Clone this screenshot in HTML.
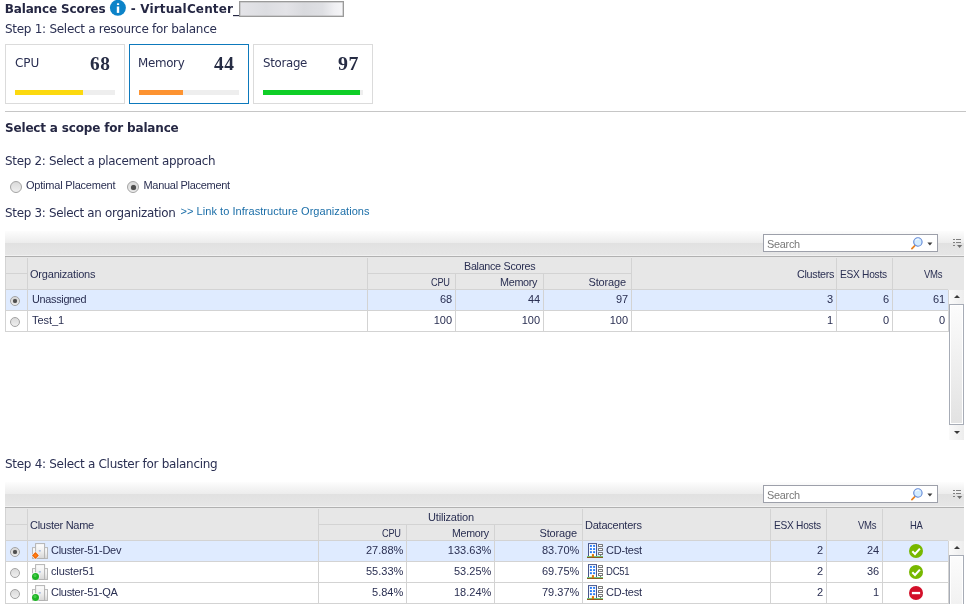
<!DOCTYPE html>
<html lang="en">
<head>
<meta charset="utf-8">
<title>Balance Scores</title>
<style>
*{box-sizing:border-box;margin:0;padding:0}
html,body{width:966px;height:604px;overflow:hidden;background:#fff}
body{position:relative;color:#2a2f52;font:11px "Liberation Sans","DejaVu Sans",sans-serif}
.a{position:absolute}
.x{position:absolute;white-space:nowrap;line-height:14px;transform-origin:0 0}
.v{font:12px 'DejaVu Sans','Liberation Sans',sans-serif;line-height:14px}
.vb{font:bold 12px 'DejaVu Sans','Liberation Sans',sans-serif;line-height:14px;color:#252743}
.t{font:11px 'Liberation Sans','DejaVu Sans',sans-serif;line-height:14px}
.n{font:bold 18px 'Liberation Serif','DejaVu Serif',serif;line-height:22px;color:#262c44}
.card{position:absolute;top:44px;width:120px;height:60px;border:1px solid #dbdbdb;background:#fff}
.card.sel{border-color:#0d79bc}
.bar{position:absolute;top:90px;width:100px;height:5px;background:#eee}
.bar i{display:block;height:5px}
.radio{position:absolute;width:12px;height:12px;border-radius:50%;border:1px solid #a3a3a3;background:linear-gradient(#dadada,#efefef)}
.radio.on:after{content:"";position:absolute;left:2.5px;top:2.5px;width:5px;height:5px;border-radius:50%;background:#4e4e4e;box-shadow:0 0 1px #666}
.radio.s{width:10px;height:10px}
.radio.s.on:after{left:2px;top:2px;width:4px;height:4px}
.tb{position:absolute;left:5px;width:959px;height:26px;background:linear-gradient(#fdfdfd 0,#ececec 12px,#e1e1e1 12px,#e6e6e6 24px,#f1f1f1 24px,#f1f1f1 25px,#b1b1b1 25px)}
.search{position:absolute;left:763px;width:175px;height:18px;border:1px solid #9da0aa;background:#fff}
.hd{position:absolute;left:5px;width:959px;height:33px;background:#e7e7e7;border-left:1px solid #d3d3d3}
.l{position:absolute;background:#d3d3d3}
.row{position:absolute;left:5px;width:944px;height:21px;border-left:1px solid #d3d3d3;border-bottom:1px solid #d3d3d3;background:#fff}
.row.sel{background:#dfebff}
.sb{position:absolute;left:949px;width:15px;background:#f4f4f4}
.sbb{position:absolute;left:949px;width:15px;height:14px;background:linear-gradient(90deg,#fafafa,#ededed)}
.thumb{position:absolute;left:949px;width:15px;border:1px solid #a7acb6;background:linear-gradient(#fcfcfc,#e2e2e2);box-shadow:inset 0 0 0 1px #fff}
</style>
</head>
<body>
<svg class="a" style="left:0;top:0" width="0" height="0" aria-hidden="true"><defs><linearGradient id="cg" x1="0" x2="0" y1="0" y2="1"><stop offset="0" stop-color="#fdfdfd"/><stop offset=".5" stop-color="#f0f0f0"/><stop offset="1" stop-color="#d6d6d6"/></linearGradient></defs></svg>
<svg class="a" style="left:110px;top:0;overflow:visible" width="16" height="16" viewBox="0 0 16 16"><circle cx="7.9" cy="7.8" r="8" fill="#0c83c8"/><rect x="6.8" y="6.5" width="2.4" height="6.4" fill="#fff"/><rect x="6.9" y="3.3" width="2.3" height="1.7" rx=".4" fill="#fff"/></svg>
<div class="a" style="left:239px;top:1px;width:105px;height:16px;border:1px solid #9a9a9a;box-shadow:inset 0 0 0 .5px #b4b4b4;background:linear-gradient(90deg,#e4e4e8,#dcdde1 25%,#e3e3e7 45%,#d9dade 62%,#dedfe3 80%,#f0f0f3 92%,#f6f6f8)"></div>
<div class="card" style="left:5px"></div>
<div class="bar" style="left:15px"><i style="width:68px;background:#fcd90f"></i></div>
<div class="card sel" style="left:129px"></div>
<div class="bar" style="left:139px"><i style="width:44px;background:#fd9331"></i></div>
<div class="card" style="left:253px"></div>
<div class="bar" style="left:263px"><i style="width:97px;background:#0fce27"></i></div>
<div class="a" style="left:5px;top:111px;width:961px;height:1px;background:#c6c6c6"></div>
<div class="radio" style="left:10px;top:181px"></div>
<div class="radio on" style="left:127px;top:181px"></div>
<div class="tb" style="top:231px"></div>
<div class="search" style="top:234px"></div>
<svg class="a" style="left:909.5px;top:235.5px" width="30" height="16" viewBox="0 0 30 16">
<line x1="1.9" y1="12.6" x2="4.6" y2="9.9" stroke="#e8821e" stroke-width="1.7" stroke-linecap="round"/>
<circle cx="7.9" cy="6" r="4.2" fill="#d3ecff" stroke="#6288d6" stroke-width="1.1"/>
<path d="M5.6 4.6a3 3 0 0 1 3.6-1.4" fill="none" stroke="#fff" stroke-width="1"/>
<path d="M17.4 6.6h5l-2.5 3z" fill="#3c3c3c"/>
</svg>
<svg class="a" style="left:952px;top:239px" width="11" height="11" viewBox="0 0 11 11">
<g fill="#808080"><rect x="1" y="0" width="2" height="1"/><rect x="4" y="0" width="5" height="1"/>
<rect x="1" y="3" width="2" height="1"/><rect x="4" y="3" width="5" height="1"/>
<rect x="1" y="6" width="2" height="1"/></g><path d="M5 6h5.2l-2.6 3.1z" fill="#6e6e6e"/>
</svg>
<div class="hd" style="top:257px"></div>
<div class="l" style="left:6px;top:273px;width:21px;height:1px"></div>
<div class="l" style="left:6px;top:289px;width:942px;height:1px"></div>
<div class="l" style="left:27px;top:258px;width:1px;height:32px"></div>
<div class="l" style="left:367px;top:258px;width:1px;height:32px"></div>
<div class="l" style="left:455px;top:274px;width:1px;height:16px"></div>
<div class="l" style="left:543px;top:274px;width:1px;height:16px"></div>
<div class="l" style="left:631px;top:258px;width:1px;height:32px"></div>
<div class="l" style="left:836px;top:258px;width:1px;height:32px"></div>
<div class="l" style="left:892px;top:258px;width:1px;height:32px"></div>
<div class="l" style="left:367px;top:273px;width:264px;height:1px"></div>
<div class="row sel" style="top:290px"></div>
<div class="l" style="left:27px;top:290px;width:1px;height:21px"></div>
<div class="l" style="left:367px;top:290px;width:1px;height:21px"></div>
<div class="l" style="left:455px;top:290px;width:1px;height:21px"></div>
<div class="l" style="left:543px;top:290px;width:1px;height:21px"></div>
<div class="l" style="left:631px;top:290px;width:1px;height:21px"></div>
<div class="l" style="left:836px;top:290px;width:1px;height:21px"></div>
<div class="l" style="left:892px;top:290px;width:1px;height:21px"></div>
<div class="l" style="left:948px;top:290px;width:1px;height:21px"></div>
<div class="radio s on" style="left:10px;top:296px"></div>
<div class="row" style="top:311px"></div>
<div class="l" style="left:27px;top:311px;width:1px;height:21px"></div>
<div class="l" style="left:367px;top:311px;width:1px;height:21px"></div>
<div class="l" style="left:455px;top:311px;width:1px;height:21px"></div>
<div class="l" style="left:543px;top:311px;width:1px;height:21px"></div>
<div class="l" style="left:631px;top:311px;width:1px;height:21px"></div>
<div class="l" style="left:836px;top:311px;width:1px;height:21px"></div>
<div class="l" style="left:892px;top:311px;width:1px;height:21px"></div>
<div class="l" style="left:948px;top:311px;width:1px;height:21px"></div>
<div class="radio s" style="left:10px;top:317px"></div>
<div class="sb" style="top:290px;height:150px"></div>
<div class="sbb" style="top:290px"></div>
<svg class="a" style="left:953.5px;top:295px" width="6" height="3" viewBox="0 0 6 3"><path d="M0 3L3 0 6 3z" fill="#3a3a3a"/></svg>
<div class="thumb" style="top:304px;height:121px"></div>
<div class="sbb" style="top:425px;height:15px"></div>
<svg class="a" style="left:953.5px;top:431px" width="6" height="3" viewBox="0 0 6 3"><path d="M0 0L3 3 6 0z" fill="#3a3a3a"/></svg>
<div class="tb" style="top:482px"></div>
<div class="search" style="top:485px"></div>
<svg class="a" style="left:909.5px;top:486.5px" width="30" height="16" viewBox="0 0 30 16">
<line x1="1.9" y1="12.6" x2="4.6" y2="9.9" stroke="#e8821e" stroke-width="1.7" stroke-linecap="round"/>
<circle cx="7.9" cy="6" r="4.2" fill="#d3ecff" stroke="#6288d6" stroke-width="1.1"/>
<path d="M5.6 4.6a3 3 0 0 1 3.6-1.4" fill="none" stroke="#fff" stroke-width="1"/>
<path d="M17.4 6.6h5l-2.5 3z" fill="#3c3c3c"/>
</svg>
<svg class="a" style="left:952px;top:490px" width="11" height="11" viewBox="0 0 11 11">
<g fill="#808080"><rect x="1" y="0" width="2" height="1"/><rect x="4" y="0" width="5" height="1"/>
<rect x="1" y="3" width="2" height="1"/><rect x="4" y="3" width="5" height="1"/>
<rect x="1" y="6" width="2" height="1"/></g><path d="M5 6h5.2l-2.6 3.1z" fill="#6e6e6e"/>
</svg>
<div class="hd" style="top:508px"></div>
<div class="l" style="left:6px;top:524px;width:21px;height:1px"></div>
<div class="l" style="left:6px;top:540px;width:942px;height:1px"></div>
<div class="l" style="left:27px;top:509px;width:1px;height:32px"></div>
<div class="l" style="left:318px;top:509px;width:1px;height:32px"></div>
<div class="l" style="left:406px;top:525px;width:1px;height:16px"></div>
<div class="l" style="left:494px;top:525px;width:1px;height:16px"></div>
<div class="l" style="left:582px;top:509px;width:1px;height:32px"></div>
<div class="l" style="left:770px;top:509px;width:1px;height:32px"></div>
<div class="l" style="left:826px;top:509px;width:1px;height:32px"></div>
<div class="l" style="left:882px;top:509px;width:1px;height:32px"></div>
<div class="l" style="left:318px;top:524px;width:264px;height:1px"></div>
<div class="row sel" style="top:541px"></div>
<div class="l" style="left:27px;top:541px;width:1px;height:21px"></div>
<div class="l" style="left:318px;top:541px;width:1px;height:21px"></div>
<div class="l" style="left:406px;top:541px;width:1px;height:21px"></div>
<div class="l" style="left:494px;top:541px;width:1px;height:21px"></div>
<div class="l" style="left:582px;top:541px;width:1px;height:21px"></div>
<div class="l" style="left:770px;top:541px;width:1px;height:21px"></div>
<div class="l" style="left:826px;top:541px;width:1px;height:21px"></div>
<div class="l" style="left:882px;top:541px;width:1px;height:21px"></div>
<div class="l" style="left:948px;top:541px;width:1px;height:21px"></div>
<div class="radio s on" style="left:10px;top:547px"></div>
<div class="row" style="top:562px"></div>
<div class="l" style="left:27px;top:562px;width:1px;height:21px"></div>
<div class="l" style="left:318px;top:562px;width:1px;height:21px"></div>
<div class="l" style="left:406px;top:562px;width:1px;height:21px"></div>
<div class="l" style="left:494px;top:562px;width:1px;height:21px"></div>
<div class="l" style="left:582px;top:562px;width:1px;height:21px"></div>
<div class="l" style="left:770px;top:562px;width:1px;height:21px"></div>
<div class="l" style="left:826px;top:562px;width:1px;height:21px"></div>
<div class="l" style="left:882px;top:562px;width:1px;height:21px"></div>
<div class="l" style="left:948px;top:562px;width:1px;height:21px"></div>
<div class="radio s" style="left:10px;top:568px"></div>
<div class="row" style="top:583px"></div>
<div class="l" style="left:27px;top:583px;width:1px;height:21px"></div>
<div class="l" style="left:318px;top:583px;width:1px;height:21px"></div>
<div class="l" style="left:406px;top:583px;width:1px;height:21px"></div>
<div class="l" style="left:494px;top:583px;width:1px;height:21px"></div>
<div class="l" style="left:582px;top:583px;width:1px;height:21px"></div>
<div class="l" style="left:770px;top:583px;width:1px;height:21px"></div>
<div class="l" style="left:826px;top:583px;width:1px;height:21px"></div>
<div class="l" style="left:882px;top:583px;width:1px;height:21px"></div>
<div class="l" style="left:948px;top:583px;width:1px;height:21px"></div>
<div class="radio s" style="left:10px;top:589px"></div>
<div class="sb" style="top:541px;height:63px"></div>
<div class="sbb" style="top:541px"></div>
<svg class="a" style="left:953.5px;top:546px" width="6" height="3" viewBox="0 0 6 3"><path d="M0 3L3 0 6 3z" fill="#3a3a3a"/></svg>
<div class="thumb" style="top:555px;height:121px"></div>
<svg class="a" style="left:32px;top:543px;overflow:visible" width="16" height="16" viewBox="0 0 16 16">
<rect x="0.5" y="4.6" width="4" height="10.9" fill="url(#cg)" stroke="#b9b9b9"/>
<rect x="12.3" y="4.6" width="3.2" height="10.9" fill="url(#cg)" stroke="#b9b9b9"/>
<rect x="3.6" y="0.6" width="9" height="14.9" fill="url(#cg)" stroke="#b3b3b3"/>
<rect x="6.8" y="7.2" width="2" height="1.3" fill="#9ab2dc"/>
<path d="M3.45 8.4L7.5 12.45 3.45 16.5 -0.6 12.45z" fill="#fff"/><path d="M3.45 9.1L6.9 12.5 3.45 15.9 0 12.5z" fill="#ee6200"/><path d="M3.45 10.4L5.5 12.5 3.45 14.6 1.4 12.5z" fill="#fd7d12"/></svg>
<svg class="a" style="left:587px;top:543px" width="16" height="16" viewBox="0 0 16 16">
<rect x="1.5" y="0.6" width="8" height="13" fill="#fdfdfd" stroke="#47568c"/>
<g fill="#2a7cf7"><rect x="2.9" y="2" width="2" height="1.9"/><rect x="6.1" y="2" width="2" height="1.9"/><rect x="2.9" y="5.1" width="2" height="1.9"/><rect x="6.1" y="5.1" width="2" height="1.9"/><rect x="2.9" y="8.2" width="2" height="1.9"/><rect x="6.1" y="8.2" width="2" height="1.9"/></g>
<g fill="#787878"><rect x="11" y="1" width="5" height="3" rx=".5"/><rect x="11" y="5" width="5" height="3" rx=".5"/><rect x="11" y="9" width="5" height="3" rx=".5"/></g>
<g fill="#fff"><rect x="12" y="2" width="3" height="1"/><rect x="12" y="6" width="3" height="1"/><rect x="12" y="10" width="3" height="1"/></g>
<rect x="13" y="12" width="1" height="1.2" fill="#787878"/>
<rect x="0" y="13" width="16" height="1" fill="#74c779"/><rect x="0" y="14" width="16" height="1" fill="#8c5a1f"/>
<rect x="4.9" y="11.1" width="2.1" height="2.9" fill="#dc7a0e"/>
</svg>
<svg class="a" style="left:909px;top:544px" width="14" height="14" viewBox="0 0 14 14"><circle cx="7" cy="7" r="7" fill="#77b800"/><path d="M3.3 7.3L6 9.9 10.9 4.6" fill="none" stroke="#fff" stroke-width="2.1"/></svg>
<svg class="a" style="left:32px;top:564px;overflow:visible" width="16" height="16" viewBox="0 0 16 16">
<rect x="0.5" y="4.6" width="4" height="10.9" fill="url(#cg)" stroke="#b9b9b9"/>
<rect x="12.3" y="4.6" width="3.2" height="10.9" fill="url(#cg)" stroke="#b9b9b9"/>
<rect x="3.6" y="0.6" width="9" height="14.9" fill="url(#cg)" stroke="#b3b3b3"/>
<rect x="6.8" y="7.2" width="2" height="1.3" fill="#9ab2dc"/>
<circle cx="3.5" cy="12.4" r="4.1" fill="#fff" opacity=".9"/><circle cx="3.5" cy="12.4" r="3.5" fill="#1db324"/><circle cx="3" cy="11.6" r="1.6" fill="#4fd455" opacity=".75"/></svg>
<svg class="a" style="left:587px;top:564px" width="16" height="16" viewBox="0 0 16 16">
<rect x="1.5" y="0.6" width="8" height="13" fill="#fdfdfd" stroke="#47568c"/>
<g fill="#2a7cf7"><rect x="2.9" y="2" width="2" height="1.9"/><rect x="6.1" y="2" width="2" height="1.9"/><rect x="2.9" y="5.1" width="2" height="1.9"/><rect x="6.1" y="5.1" width="2" height="1.9"/><rect x="2.9" y="8.2" width="2" height="1.9"/><rect x="6.1" y="8.2" width="2" height="1.9"/></g>
<g fill="#787878"><rect x="11" y="1" width="5" height="3" rx=".5"/><rect x="11" y="5" width="5" height="3" rx=".5"/><rect x="11" y="9" width="5" height="3" rx=".5"/></g>
<g fill="#fff"><rect x="12" y="2" width="3" height="1"/><rect x="12" y="6" width="3" height="1"/><rect x="12" y="10" width="3" height="1"/></g>
<rect x="13" y="12" width="1" height="1.2" fill="#787878"/>
<rect x="0" y="13" width="16" height="1" fill="#74c779"/><rect x="0" y="14" width="16" height="1" fill="#8c5a1f"/>
<rect x="4.9" y="11.1" width="2.1" height="2.9" fill="#dc7a0e"/>
</svg>
<svg class="a" style="left:909px;top:565px" width="14" height="14" viewBox="0 0 14 14"><circle cx="7" cy="7" r="7" fill="#77b800"/><path d="M3.3 7.3L6 9.9 10.9 4.6" fill="none" stroke="#fff" stroke-width="2.1"/></svg>
<svg class="a" style="left:32px;top:585px;overflow:visible" width="16" height="16" viewBox="0 0 16 16">
<rect x="0.5" y="4.6" width="4" height="10.9" fill="url(#cg)" stroke="#b9b9b9"/>
<rect x="12.3" y="4.6" width="3.2" height="10.9" fill="url(#cg)" stroke="#b9b9b9"/>
<rect x="3.6" y="0.6" width="9" height="14.9" fill="url(#cg)" stroke="#b3b3b3"/>
<rect x="6.8" y="7.2" width="2" height="1.3" fill="#9ab2dc"/>
<circle cx="3.5" cy="12.4" r="4.1" fill="#fff" opacity=".9"/><circle cx="3.5" cy="12.4" r="3.5" fill="#1db324"/><circle cx="3" cy="11.6" r="1.6" fill="#4fd455" opacity=".75"/></svg>
<svg class="a" style="left:587px;top:585px" width="16" height="16" viewBox="0 0 16 16">
<rect x="1.5" y="0.6" width="8" height="13" fill="#fdfdfd" stroke="#47568c"/>
<g fill="#2a7cf7"><rect x="2.9" y="2" width="2" height="1.9"/><rect x="6.1" y="2" width="2" height="1.9"/><rect x="2.9" y="5.1" width="2" height="1.9"/><rect x="6.1" y="5.1" width="2" height="1.9"/><rect x="2.9" y="8.2" width="2" height="1.9"/><rect x="6.1" y="8.2" width="2" height="1.9"/></g>
<g fill="#787878"><rect x="11" y="1" width="5" height="3" rx=".5"/><rect x="11" y="5" width="5" height="3" rx=".5"/><rect x="11" y="9" width="5" height="3" rx=".5"/></g>
<g fill="#fff"><rect x="12" y="2" width="3" height="1"/><rect x="12" y="6" width="3" height="1"/><rect x="12" y="10" width="3" height="1"/></g>
<rect x="13" y="12" width="1" height="1.2" fill="#787878"/>
<rect x="0" y="13" width="16" height="1" fill="#74c779"/><rect x="0" y="14" width="16" height="1" fill="#8c5a1f"/>
<rect x="4.9" y="11.1" width="2.1" height="2.9" fill="#dc7a0e"/>
</svg>
<svg class="a" style="left:909px;top:586px" width="14" height="14" viewBox="0 0 14 14"><circle cx="7" cy="7" r="7" fill="#d3102a"/><rect x="2.9" y="5.9" width="8.2" height="2.3" fill="#fff"/></svg>
<div class="x vb" style="left:4.70px;top:2.00px;letter-spacing:-0.13px">Balance Scores</div>
<div class="x vb" style="left:130.70px;top:2.00px;letter-spacing:0.16px">- VirtualCenter_</div>
<div class="x v" style="left:5.00px;top:22.00px;letter-spacing:-0.28px">Step 1: Select a resource for balance</div>
<div class="x v" style="left:15.00px;top:56.00px;letter-spacing:-0.06px">CPU</div>
<div class="x v" style="left:138.41px;top:56.00px;letter-spacing:-0.3px;transform:scaleX(0.9870)">Memory</div>
<div class="x v" style="left:263.00px;top:56.00px;letter-spacing:-0.3px;transform:scaleX(0.9828)">Storage</div>
<div class="x n" style="left:90.20px;top:53.00px;letter-spacing:0.6px;transform:scaleX(1.0753)">68</div>
<div class="x n" style="left:214.00px;top:53.00px;letter-spacing:0.6px;transform:scaleX(1.0753)">44</div>
<div class="x n" style="left:337.80px;top:53.00px;letter-spacing:0.6px;transform:scaleX(1.1022)">97</div>
<div class="x vb" style="left:5.00px;top:121.00px;letter-spacing:-0.17px">Select a scope for balance</div>
<div class="x v" style="left:5.00px;top:154.00px;letter-spacing:-0.3px;transform:scaleX(0.9931)">Step 2: Select a placement approach</div>
<div class="x t" style="left:26.00px;top:178.00px;letter-spacing:-0.21px">Optimal Placement</div>
<div class="x t" style="left:143.50px;top:178.00px;letter-spacing:-0.3px">Manual Placement</div>
<div class="x v" style="left:5.00px;top:206.00px;letter-spacing:-0.3px;transform:scaleX(0.9927)">Step 3: Select an organization</div>
<div class="x t" style="left:180.50px;top:204.00px;letter-spacing:0.05px;color:#1b6ea8">&gt;&gt; Link to Infrastructure Organizations</div>
<div class="x v" style="left:5.00px;top:457.00px;letter-spacing:-0.3px">Step 4: Select a Cluster for balancing</div>
<div class="x t" style="left:767.00px;top:237.00px;letter-spacing:-0.3px;transform:scaleX(0.9929);color:#787878">Search</div>
<div class="x t" style="left:30.00px;top:267.00px;letter-spacing:-0.2px">Organizations</div>
<div class="x t" style="left:464.00px;top:259.00px;letter-spacing:-0.3px;transform:scaleX(0.9777)">Balance Scores</div>
<div class="x t" style="left:431.00px;top:275.00px;letter-spacing:-0.3px;transform:scaleX(0.8377)">CPU</div>
<div class="x t" style="left:500.00px;top:275.00px;letter-spacing:-0.3px;transform:scaleX(0.9813)">Memory</div>
<div class="x t" style="left:588.49px;top:275.00px;letter-spacing:-0.15px">Storage</div>
<div class="x t" style="left:797.00px;top:267.00px;letter-spacing:-0.3px;transform:scaleX(0.9808)">Clusters</div>
<div class="x t" style="left:839.50px;top:267.00px;letter-spacing:-0.3px;transform:scaleX(0.9262)">ESX Hosts</div>
<div class="x t" style="left:924.00px;top:267.00px;letter-spacing:-0.3px;transform:scaleX(0.8676)">VMs</div>
<div class="x t" style="left:32.00px;top:292.00px;letter-spacing:-0.3px;transform:scaleX(0.9860)">Unassigned</div>
<div class="x t" style="left:439.88px;top:292.00px">68</div>
<div class="x t" style="left:527.88px;top:292.00px">44</div>
<div class="x t" style="left:615.88px;top:292.00px">97</div>
<div class="x t" style="left:827.00px;top:292.00px">3</div>
<div class="x t" style="left:883.00px;top:292.00px">6</div>
<div class="x t" style="left:932.88px;top:292.00px">61</div>
<div class="x t" style="left:32.00px;top:313.00px;letter-spacing:-0.06px">Test_1</div>
<div class="x t" style="left:433.76px;top:313.00px">100</div>
<div class="x t" style="left:521.76px;top:313.00px">100</div>
<div class="x t" style="left:609.76px;top:313.00px">100</div>
<div class="x t" style="left:827.00px;top:313.00px">1</div>
<div class="x t" style="left:883.00px;top:313.00px">0</div>
<div class="x t" style="left:939.00px;top:313.00px">0</div>
<div class="x t" style="left:767.00px;top:488.00px;letter-spacing:-0.3px;transform:scaleX(0.9929);color:#787878">Search</div>
<div class="x t" style="left:30.00px;top:518.00px;letter-spacing:-0.28px">Cluster Name</div>
<div class="x t" style="left:428.00px;top:510.00px;letter-spacing:-0.16px">Utilization</div>
<div class="x t" style="left:382.00px;top:526.00px;letter-spacing:-0.3px;transform:scaleX(0.8377)">CPU</div>
<div class="x t" style="left:451.50px;top:526.00px;letter-spacing:-0.3px;transform:scaleX(0.9684)">Memory</div>
<div class="x t" style="left:539.49px;top:526.00px;letter-spacing:-0.15px">Storage</div>
<div class="x t" style="left:585.00px;top:518.00px;letter-spacing:-0.23px">Datacenters</div>
<div class="x t" style="left:773.50px;top:518.00px;letter-spacing:-0.3px;transform:scaleX(0.9262)">ESX Hosts</div>
<div class="x t" style="left:858.00px;top:518.00px;letter-spacing:-0.3px;transform:scaleX(0.8676)">VMs</div>
<div class="x t" style="left:910.20px;top:518.00px;letter-spacing:-0.3px;transform:scaleX(0.8566)">HA</div>
<div class="x t" style="left:51.00px;top:543.00px;letter-spacing:-0.27px">Cluster-51-Dev</div>
<div class="x t" style="left:365.97px;top:543.00px">27.88%</div>
<div class="x t" style="left:447.86px;top:543.00px">133.63%</div>
<div class="x t" style="left:541.97px;top:543.00px">83.70%</div>
<div class="x t" style="left:606.00px;top:543.00px;letter-spacing:-0.2px">CD-test</div>
<div class="x t" style="left:817.00px;top:543.00px">2</div>
<div class="x t" style="left:866.88px;top:543.00px">24</div>
<div class="x t" style="left:51.00px;top:564.00px;letter-spacing:-0.13px">cluster51</div>
<div class="x t" style="left:365.97px;top:564.00px">55.33%</div>
<div class="x t" style="left:453.97px;top:564.00px">53.25%</div>
<div class="x t" style="left:541.97px;top:564.00px">69.75%</div>
<div class="x t" style="left:606.00px;top:564.00px;letter-spacing:-0.3px;transform:scaleX(0.8670)">DC51</div>
<div class="x t" style="left:817.00px;top:564.00px">2</div>
<div class="x t" style="left:866.88px;top:564.00px">36</div>
<div class="x t" style="left:51.00px;top:585.00px;letter-spacing:-0.29px">Cluster-51-QA</div>
<div class="x t" style="left:372.09px;top:585.00px">5.84%</div>
<div class="x t" style="left:453.97px;top:585.00px">18.24%</div>
<div class="x t" style="left:541.97px;top:585.00px">79.37%</div>
<div class="x t" style="left:606.00px;top:585.00px;letter-spacing:-0.2px">CD-test</div>
<div class="x t" style="left:817.00px;top:585.00px">2</div>
<div class="x t" style="left:873.00px;top:585.00px">1</div>
</body>
</html>
